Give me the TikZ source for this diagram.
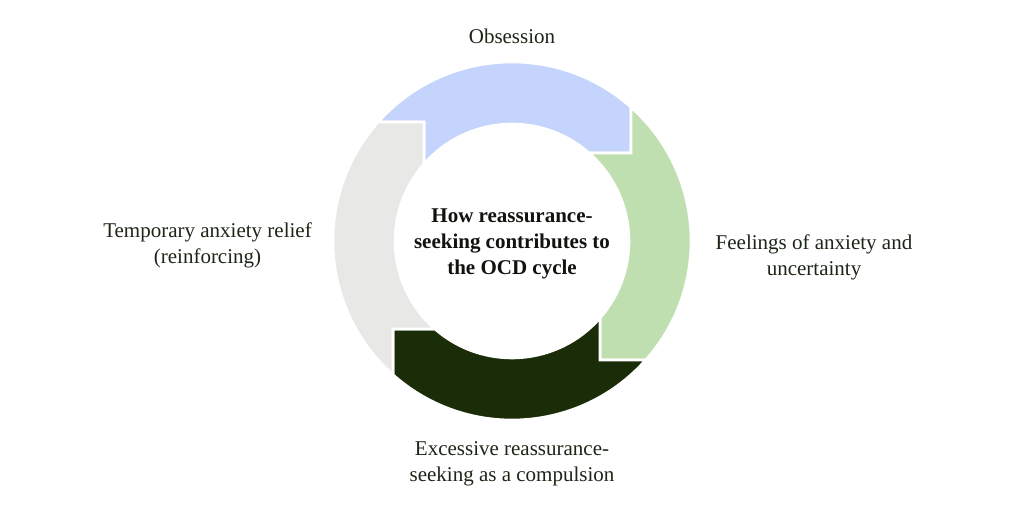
\documentclass[tikz,border=0pt]{standalone}
\usepackage{fontspec}
\setmainfont{Liberation Serif}
\definecolor{segblue}{RGB}{197,212,252}
\definecolor{seggreen}{RGB}{192,223,176}
\definecolor{segdark}{RGB}{27,45,8}
\definecolor{seggray}{RGB}{232,232,230}
\definecolor{labelc}{RGB}{28,38,22}
\definecolor{titlec}{RGB}{17,20,14}
\begin{document}
\begin{tikzpicture}[x=1pt,y=1pt,
  seg/.style={draw=white, line width=2.6pt, line join=miter},
  lbl/.style={align=center, font=\fontsize{21}{26}\selectfont, text=labelc, inner sep=0pt},
  ttl/.style={align=center, font=\fontsize{21}{26}\selectfont\bfseries, text=titlec, inner sep=0pt}]
\useasboundingbox (0,0) rectangle (1024,512);
\fill[white] (0,0) rectangle (1024,512);
\begin{scope}[shift={(512,271)}]
  \coordinate (O45) at (119,133.7);
  \coordinate (T45) at (119,88);
  \coordinate (I45) at (77.1,88);
  \coordinate (O315) at (133.7,-119);
  \coordinate (T315) at (88,-119);
  \coordinate (I315) at (88,-77.1);
  \coordinate (O225) at (-119,-133.7);
  \coordinate (T225) at (-119,-88);
  \coordinate (I225) at (-77.1,-88);
  \coordinate (O135) at (-133.7,119);
  \coordinate (T135) at (-88,119);
  \coordinate (I135) at (-88,77.1);
  % blue: obsession
  \fill[seg, fill=segblue] (O135) arc[start angle=138.33, end angle=48.33, radius=179]
    -- (T45) -- (I45) arc[start angle=48.78, end angle=138.78, radius=117] -- (T135) -- cycle;
  % green: feelings
  \fill[seg, fill=seggreen] (O45) arc[start angle=48.33, end angle=-41.67, radius=179]
    -- (T315) -- (I315) arc[start angle=-41.22, end angle=48.78, radius=117] -- (T45) -- cycle;
  % dark: compulsion
  \fill[seg, fill=segdark] (O315) arc[start angle=-41.67, end angle=-131.67, radius=179]
    -- (T225) -- (I225) arc[start angle=-131.22, end angle=-41.22, radius=117] -- (T315) -- cycle;
  % gray: relief
  \fill[seg, fill=seggray] (O225) arc[start angle=228.33, end angle=138.33, radius=179]
    -- (T135) -- (I135) arc[start angle=138.78, end angle=228.78, radius=117] -- (T225) -- cycle;
  \node[ttl] (title) at (0,-2.5) {How reassurance-\\seeking contributes to\\the OCD cycle};
\end{scope}
\node[lbl] (obs) at (512,476) {Obsession};
\node[lbl] (feel) at (814,255) {Feelings of anxiety and\\uncertainty};
\node[lbl] (comp) at (512,48) {Excessive reassurance-\\seeking as a compulsion};
\node[lbl] (relief) at (207.5,267) {Temporary anxiety relief\\(reinforcing)};
\end{tikzpicture}
\end{document}
